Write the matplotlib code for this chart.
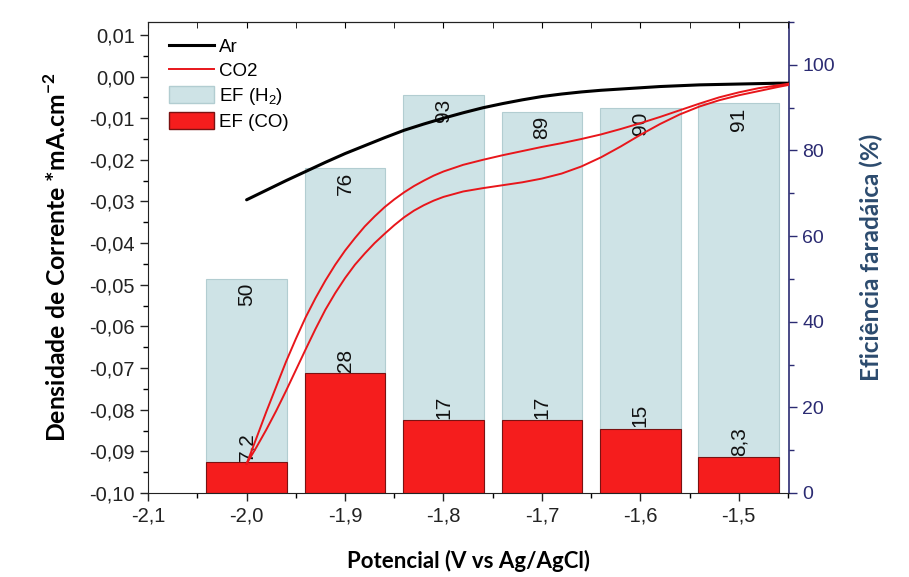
import matplotlib
matplotlib.use("Agg")
import matplotlib.pyplot as plt
from matplotlib.ticker import MultipleLocator, FuncFormatter
from matplotlib.patches import Patch
from matplotlib.lines import Line2D

plt.rcParams["font.family"] = ["Liberation Sans", "DejaVu Sans"]
plt.rcParams["mathtext.fontset"] = "custom"
plt.rcParams["mathtext.rm"] = "Liberation Sans"

# ---------------- data ----------------
potentials = [-2.0, -1.9, -1.8, -1.7, -1.6, -1.5]
ef_h2 = [50, 76, 93, 89, 90, 91]
ef_co = [7.2, 28, 17, 17, 15, 8.3]

ar_x = [-2.0, -1.98, -1.96, -1.94, -1.92, -1.90, -1.88, -1.86, -1.84, -1.82,
        -1.80, -1.78, -1.76, -1.74, -1.72, -1.70, -1.68, -1.66, -1.64, -1.62,
        -1.60, -1.58, -1.56, -1.54, -1.52, -1.50, -1.48, -1.46, -1.449]
ar_y = [-0.0296, -0.0273, -0.0250, -0.0228, -0.0206, -0.0185, -0.0166, -0.0147,
        -0.0129, -0.0114, -0.0100, -0.0087, -0.0075, -0.0065, -0.0056, -0.0048,
        -0.0042, -0.0037, -0.0033, -0.0030, -0.0027, -0.0024, -0.0022, -0.0020,
        -0.0019, -0.0018, -0.0017, -0.0016, -0.0016]

# CO2 voltammogram: upper branch and lower branch (both listed from -2.0 up)
co2_up_x = [-2.0, -1.99, -1.98, -1.97, -1.96, -1.95, -1.94, -1.93, -1.92, -1.91,
            -1.90, -1.89, -1.88, -1.87, -1.86, -1.85, -1.84, -1.83, -1.82, -1.81,
            -1.80, -1.78, -1.76, -1.74, -1.72, -1.70, -1.68, -1.66, -1.64, -1.62,
            -1.60, -1.58, -1.56, -1.54, -1.52, -1.50, -1.48, -1.46, -1.449]
co2_up_y = [-0.0930, -0.0868, -0.0805, -0.0745, -0.0685, -0.0630, -0.0578, -0.0532,
            -0.0490, -0.0452, -0.0418, -0.0388, -0.0360, -0.0336, -0.0314, -0.0295,
            -0.0278, -0.0263, -0.0250, -0.0238, -0.0228, -0.0212, -0.0200, -0.0189,
            -0.0179, -0.0169, -0.0160, -0.0150, -0.0139, -0.0126, -0.0112, -0.0097,
            -0.0081, -0.0065, -0.0050, -0.0038, -0.0028, -0.0021, -0.0017]

co2_low_x = [-2.0, -1.99, -1.98, -1.97, -1.96, -1.95, -1.94, -1.93, -1.92, -1.91,
             -1.90, -1.89, -1.88, -1.87, -1.86, -1.85, -1.84, -1.83, -1.82, -1.81,
             -1.80, -1.78, -1.76, -1.74, -1.72, -1.70, -1.68, -1.66, -1.64, -1.62,
             -1.60, -1.58, -1.56, -1.54, -1.52, -1.50, -1.48, -1.46, -1.449]
co2_low_y = [-0.0930, -0.0890, -0.0848, -0.0803, -0.0755, -0.0705, -0.0655, -0.0606,
             -0.0560, -0.0520, -0.0484, -0.0452, -0.0425, -0.0400, -0.0378, -0.0357,
             -0.0338, -0.0322, -0.0309, -0.0298, -0.0289, -0.0276, -0.0268, -0.0261,
             -0.0254, -0.0245, -0.0233, -0.0216, -0.0194, -0.0168, -0.0140, -0.0114,
             -0.0091, -0.0072, -0.0057, -0.0045, -0.0035, -0.0025, -0.0020]

x_label = "Potencial (V vs Ag/AgCl)"
y_label = "Densidade de Corrente *mA.cm$^{\\mathregular{-2}}$"
y2_label = "Eficiência faradáica (%)"

# ---------------- figure ----------------
TITLE_FONT = "Lato"
NAVY = "#2B2B72"
H2_COLOR = "#CEE3E6"
H2_EDGE = "#B2CDD1"
CO_COLOR = "#F51D1D"
CO_EDGE = "#7A1212"
RED_LINE = "#E8161B"

fig = plt.figure(figsize=(9.09, 5.77), dpi=100)
ax = fig.add_axes([0.163, 0.1456, 0.705, 0.8163])
ax2 = ax.twinx()
ax.set_zorder(ax2.get_zorder() + 1)
ax.patch.set_visible(False)

bar_w = 0.082
ax2.bar(potentials, ef_h2, width=bar_w, color=H2_COLOR, edgecolor=H2_EDGE,
        linewidth=0.8, zorder=1)
ax2.bar(potentials, ef_co, width=bar_w, color=CO_COLOR, edgecolor=CO_EDGE,
        linewidth=0.8, zorder=2)

for xp, v in zip(potentials, ef_h2):
    ax2.annotate(str(v).replace(".", ","), (xp, v), xytext=(0, -3),
                 textcoords="offset points", rotation=90, ha="center", va="top",
                 fontsize=15, color="#111111", zorder=3)
for xp, v in zip(potentials, ef_co):
    ax2.annotate(str(v).replace(".", ","), (xp, v), xytext=(0, 1),
                 textcoords="offset points", rotation=90, ha="center", va="bottom",
                 fontsize=15, color="#111111", zorder=3)

ax.plot(ar_x, ar_y, color="black", lw=2.2, solid_capstyle="round")
ax.plot(co2_up_x + co2_low_x[::-1], co2_up_y + co2_low_y[::-1],
        color=RED_LINE, lw=1.4)

ax.set_xlim(-2.1, -1.449)
ax.set_ylim(-0.10, 0.0131)
ax2.set_ylim(0, 110)

ax.xaxis.set_major_locator(MultipleLocator(0.1))
ax.xaxis.set_minor_locator(MultipleLocator(0.05))
ax.yaxis.set_major_locator(MultipleLocator(0.01))
ax.yaxis.set_minor_locator(MultipleLocator(0.005))
ax2.yaxis.set_major_locator(MultipleLocator(20))
ax2.yaxis.set_minor_locator(MultipleLocator(10))


def fmt_y(v, pos):
    if abs(v) < 1e-9:
        v = 0.0
    return f"{v:.2f}".replace(".", ",")


def fmt_x(v, pos):
    return f"{v:.1f}".replace(".", ",")


ax.yaxis.set_major_formatter(FuncFormatter(fmt_y))
ax.xaxis.set_major_formatter(FuncFormatter(fmt_x))

ax.tick_params(axis="both", which="major", direction="out", length=6, width=1,
               labelsize=14.5, colors="#222222")
ax.tick_params(axis="both", which="minor", direction="out", length=3.5, width=1)
ax2.tick_params(axis="y", which="major", direction="out", length=6, width=1,
                labelsize=14, colors=NAVY)
ax2.tick_params(axis="y", which="minor", direction="out", length=3.5, width=1,
                colors=NAVY)

top = ax.secondary_xaxis("top")
top.xaxis.set_major_locator(MultipleLocator(0.1))
top.xaxis.set_minor_locator(MultipleLocator(0.05))
top.tick_params(which="both", direction="in", labeltop=False, length=4)

for s in ["left", "bottom", "top"]:
    ax.spines[s].set_color("#222222")
ax.spines["right"].set_visible(False)
for s in ["left", "bottom", "top"]:
    ax2.spines[s].set_visible(False)
ax2.spines["right"].set_color(NAVY)
ax2.spines["right"].set_linewidth(1.2)

ax.set_xlabel(x_label, fontsize=16, family=TITLE_FONT, fontweight="bold",
              labelpad=18)
ax.set_ylabel(y_label, fontsize=17.8, family=TITLE_FONT, fontweight="bold",
              labelpad=14)
ax2.set_ylabel(y2_label, fontsize=17.5, family=TITLE_FONT, fontweight="bold",
               color="#2C4B6E", labelpad=18)

handles = [Line2D([], [], color="black", lw=2.2),
           Line2D([], [], color=RED_LINE, lw=1.4),
           Patch(facecolor=H2_COLOR, edgecolor=H2_EDGE),
           Patch(facecolor=CO_COLOR, edgecolor=CO_EDGE)]
labels = ["Ar", "CO2", "EF (H$_{\\mathregular{2}}$)", "EF (CO)"]
leg = ax.legend(handles, labels, loc="upper left", bbox_to_anchor=(0.032, 0.968),
                frameon=False, prop={"size": 13.5},
                handlelength=2.4, handleheight=1.05, handletextpad=0.3,
                labelspacing=0.28, borderaxespad=0, borderpad=0)

fig.savefig("out.png", dpi=100)
